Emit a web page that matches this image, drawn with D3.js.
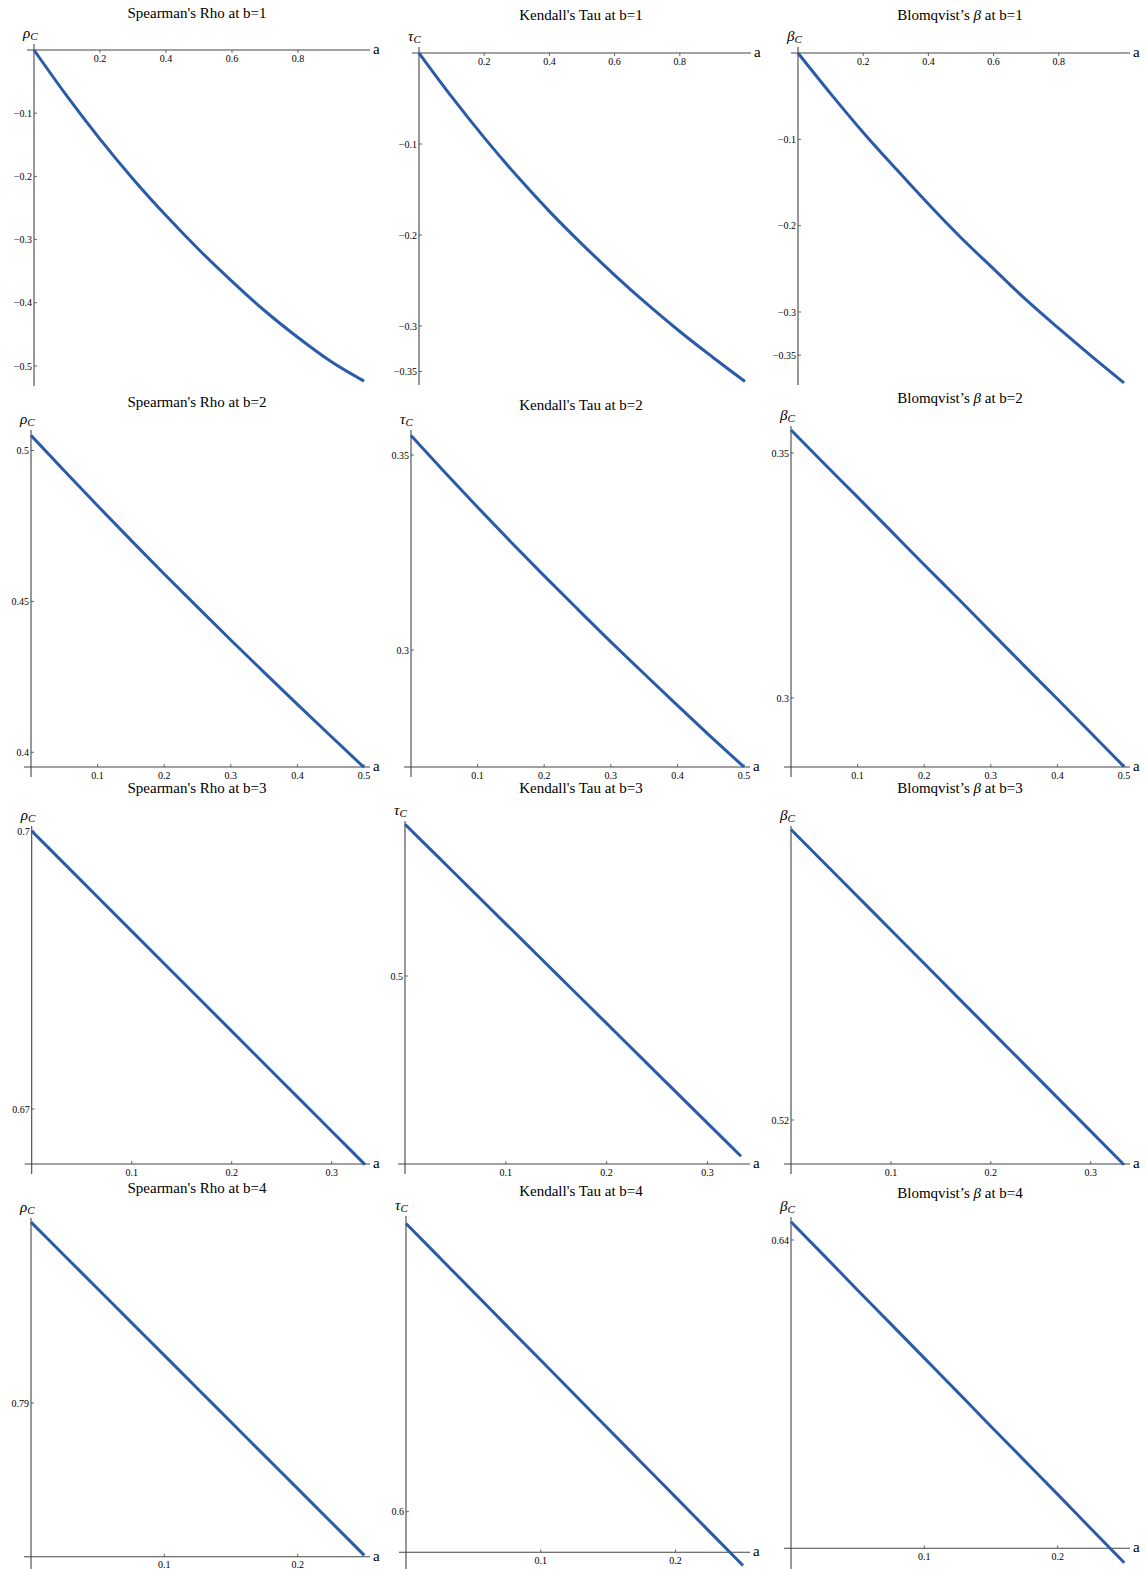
<!DOCTYPE html>
<html>
<head>
<meta charset="utf-8">
<script src="https://cdn.jsdelivr.net/npm/d3@7"></script>
<style>
  body { margin: 0; background: #fff; }
  text { font-family: "Liberation Serif", "Times New Roman", serif; fill: #000; }
</style>
</head>
<body>
<svg id="chart" width="1146" height="1569"></svg>
<script>
// measures (columns) and b values (rows)
const measures = ["Spearman's Rho", "Kendall's Tau", "Blomqvist’s"];
const symbols = ["ρ", "τ", "β"];
const bValues = [1, 2, 3, 4];
const aMax = [1, 0.5, 1 / 3, 0.25];

// values read at a = 0, aMax/10, 2*aMax/10, ... aMax
const spearmanB1 = [0, -0.073, -0.141, -0.204, -0.262, -0.316, -0.366, -0.413, -0.455, -0.493, -0.524];
const kendallB1 = [0, -0.048, -0.093, -0.135, -0.174, -0.210, -0.244, -0.276, -0.306, -0.334, -0.361];
const blomqvistB1 = [0, -0.047, -0.092, -0.134, -0.175, -0.214, -0.250, -0.286, -0.319, -0.351, -0.382];

const spearmanB2 = [0.505, 0.4933, 0.4817, 0.4703, 0.4591, 0.4481, 0.4372, 0.4265, 0.4159, 0.4054, 0.3950];
const kendallB2 = [0.355, 0.3457, 0.3366, 0.3277, 0.3190, 0.3105, 0.3021, 0.2939, 0.2858, 0.2778, 0.2700];
const blomqvistB2 = [0.3547, 0.3478, 0.3410, 0.3341, 0.3272, 0.3204, 0.3135, 0.3066, 0.2998, 0.2929, 0.2860];

const spearmanB3 = [0.7000, 0.6964, 0.6928, 0.6892, 0.6856, 0.6820, 0.6784, 0.6748, 0.6712, 0.6676, 0.6640];
const kendallB3 = [0.5128, 0.5100, 0.5072, 0.5044, 0.5016, 0.4988, 0.4960, 0.4932, 0.4904, 0.4876, 0.4848];
const blomqvistB3 = [0.53950, 0.53725, 0.53500, 0.53275, 0.53050, 0.52825, 0.52600, 0.52375, 0.52150, 0.51925, 0.51700];

const spearmanB4 = [0.7976, 0.7962, 0.7948, 0.7934, 0.7920, 0.7906, 0.7892, 0.7878, 0.7864, 0.7850, 0.7836];
const kendallB4 = [0.60910, 0.60802, 0.60694, 0.60586, 0.60478, 0.60370, 0.60262, 0.60154, 0.60046, 0.59938, 0.59830];
const blomqvistB4 = [0.64047, 0.63959, 0.63870, 0.63782, 0.63694, 0.63606, 0.63517, 0.63429, 0.63341, 0.63252, 0.63164];

// tick labels
const xTicks = [[0.2, 0.4, 0.6, 0.8], [0.1, 0.2, 0.3, 0.4, 0.5], [0.1, 0.2, 0.3], [0.1, 0.2]];
const spearmanTicks = [[-0.1, -0.2, -0.3, -0.4, -0.5], [0.4, 0.45, 0.5], [0.67, 0.7], [0.79]];
const kendallTicks = [[-0.1, -0.2, -0.3, -0.35], [0.3, 0.35], [0.5], [0.6]];
const blomqvistTicks = [[-0.1, -0.2, -0.3, -0.35], [0.3, 0.35], [0.52], [0.64]];

const series = [
  [spearmanB1, kendallB1, blomqvistB1],
  [spearmanB2, kendallB2, blomqvistB2],
  [spearmanB3, kendallB3, blomqvistB3],
  [spearmanB4, kendallB4, blomqvistB4]
];
const yTicks = [0, 1, 2, 3].map(r => [spearmanTicks[r], kendallTicks[r], blomqvistTicks[r]]);

// panel frames in pixels: a=0 / a=max columns, two y reference points, axis position
const frames = [
  [
    {x0: 34, x1: 364, ref: [[0, 50], [-0.5, 366]], axisPx: 50, top: 44, bottom: 386, xEnd: 370, tx: 197, ty: 18},
    {x0: 419, x1: 745, ref: [[0, 53], [-0.3, 326]], axisPx: 53, top: 47, bottom: 385, xEnd: 751, tx: 581, ty: 20},
    {x0: 798, x1: 1124, ref: [[0, 53], [-0.3, 312]], axisPx: 53, top: 47, bottom: 385, xEnd: 1130, tx: 960, ty: 20}
  ],
  [
    {x0: 31, x1: 364, ref: [[0.5, 450.5], [0.4, 752.3]], axisPx: 767, top: 430, bottom: 777, xEnd: 370, tx: 197, ty: 407},
    {x0: 411, x1: 744, ref: [[0.35, 455], [0.3, 650]], axisPx: 767, top: 430, bottom: 777, xEnd: 750, tx: 581, ty: 410},
    {x0: 791, x1: 1124, ref: [[0.35, 453], [0.3, 698]], axisPx: 767, top: 426, bottom: 777, xEnd: 1130, tx: 960, ty: 403}
  ],
  [
    {x0: 31.7, x1: 365, ref: [[0.7, 831], [0.67, 1109]], axisPx: 1164, top: 826, bottom: 1174, xEnd: 370, tx: 197, ty: 793},
    {x0: 405, x1: 741, ref: [[0.5, 976], [0.51, 857.4]], axisPx: 1164, top: 821, bottom: 1174, xEnd: 750, tx: 581, ty: 793},
    {x0: 791, x1: 1124, ref: [[0.52, 1120], [0.53, 971]], axisPx: 1164, top: 826, bottom: 1174, xEnd: 1130, tx: 960, ty: 793}
  ],
  [
    {x0: 31, x1: 364.3, ref: [[0.79, 1403], [0.80, 1165]], axisPx: 1556.7, top: 1218, bottom: 1569, xEnd: 370, tx: 197, ty: 1193},
    {x0: 406, x1: 743, ref: [[0.6, 1511.7], [0.61, 1195]], axisPx: 1552.3, top: 1216, bottom: 1569, xEnd: 750, tx: 581, ty: 1196},
    {x0: 791, x1: 1124.3, ref: [[0.64, 1240], [0.63, 1626]], axisPx: 1548.3, top: 1217, bottom: 1569, xEnd: 1130, tx: 960, ty: 1198}
  ]
];

const svg = d3.select("#chart");
const fmt = v => (v < 0 ? "\u2212" : "") + String(Math.abs(v));

bValues.forEach((b, r) => {
  measures.forEach((m, c) => {
    const f = frames[r][c];
    const vals = series[r][c];
    const x = d3.scaleLinear().domain([0, aMax[r]]).range([f.x0, f.x1]);
    const y = d3.scaleLinear().domain([f.ref[0][0], f.ref[1][0]]).range([f.ref[0][1], f.ref[1][1]]);
    const g = svg.append("g");

    // title
    const t = g.append("text").attr("x", f.tx).attr("y", f.ty)
      .attr("text-anchor", "middle").style("font-size", "15px");
    if (c === 2) {
      t.append("tspan").text(m + " ");
      t.append("tspan").style("font-style", "italic").text("β");
      t.append("tspan").text(" at b=" + b);
    } else {
      t.text(m + " at b=" + b);
    }

    // axes
    g.append("line").attr("x1", f.x0 - 7).attr("x2", f.xEnd)
      .attr("y1", f.axisPx).attr("y2", f.axisPx)
      .attr("stroke", "#444").attr("stroke-width", 1.1);
    g.append("line").attr("x1", f.x0).attr("x2", f.x0)
      .attr("y1", f.top).attr("y2", f.bottom)
      .attr("stroke", "#444").attr("stroke-width", 1.1);

    // x ticks
    const dir = r === 0 ? 1 : -1;
    xTicks[r].forEach(v => {
      g.append("line").attr("x1", x(v)).attr("x2", x(v))
        .attr("y1", f.axisPx).attr("y2", f.axisPx + dir * 3)
        .attr("stroke", "#444").attr("stroke-width", 0.8);
      g.append("text").attr("x", x(v)).attr("y", f.axisPx + 11.5)
        .attr("text-anchor", "middle").style("font-size", "10px").text(fmt(v));
    });

    // y ticks
    yTicks[r][c].forEach(v => {
      g.append("line").attr("x1", f.x0).attr("x2", f.x0 + 3)
        .attr("y1", y(v)).attr("y2", y(v))
        .attr("stroke", "#444").attr("stroke-width", 0.8);
      g.append("text").attr("x", f.x0 - 2).attr("y", y(v) + 3.5)
        .attr("text-anchor", "end").style("font-size", "10px").text(fmt(v));
    });

    // axis labels
    const lab = g.append("text").attr("x", f.x0 - 11).attr("y", f.top - 6)
      .style("font-size", "15px").style("font-style", "italic");
    lab.append("tspan").text(symbols[c]);
    lab.append("tspan").attr("dy", 2).style("font-size", "11px").text("C");
    g.append("text").attr("x", f.xEnd + 3).attr("y", f.axisPx + 4)
      .style("font-size", "15px").text("a");

    // curve
    const pts = vals.map((v, i) => [aMax[r] * i / (vals.length - 1), v]);
    g.append("path").datum(pts)
      .attr("fill", "none").attr("stroke", "#2a5ba8").attr("stroke-width", 3)
      .attr("d", d3.line().x(d => x(d[0])).y(d => y(d[1])).curve(d3.curveMonotoneX));
  });
});
</script>
</body>
</html>
